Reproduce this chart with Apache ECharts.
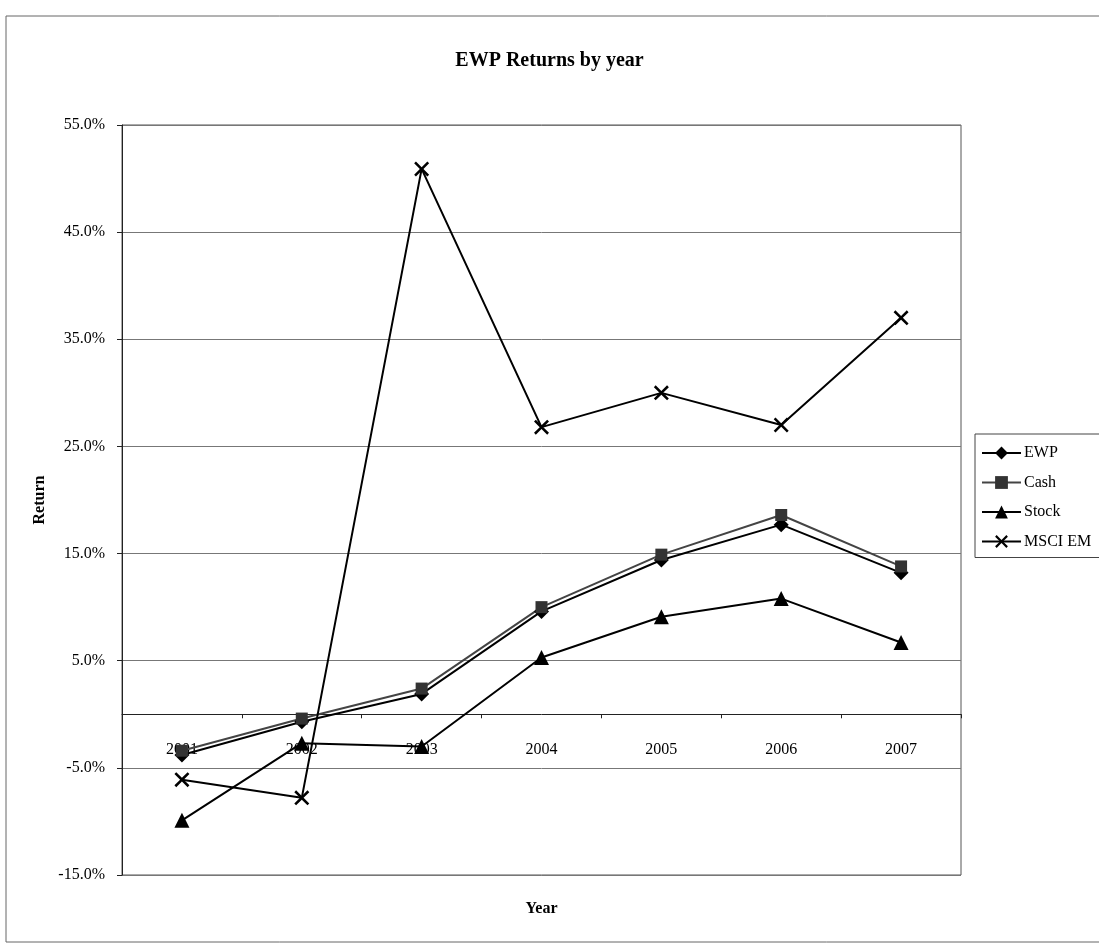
<!DOCTYPE html>
<html>
<head>
<meta charset="utf-8">
<script src="https://cdn.jsdelivr.net/npm/echarts@6/dist/echarts.min.js"></script>
<style>
html,body{margin:0;padding:0;background:#fff;}
#chart{width:1099px;height:945px;}
</style>
</head>
<body>
<div id="chart"></div>
<script>
var years = ['2001','2002','2003','2004','2005','2006','2007'];
var ewp   = [-3.8, -0.7, 1.9, 9.6, 14.4, 17.7, 13.2];
var cash  = [-3.4, -0.4, 2.4, 10.0, 14.9, 18.6, 13.8];
var stock = [-9.9, -2.7, -3.0, 5.3, 9.1, 10.8, 6.7];
var msci  = [-6.1, -7.8, 50.9, 26.8, 30.0, 27.0, 37.0];
var seriesNames = ['EWP', 'Cash', 'Stock', 'MSCI EM'];

var FONT = '"Liberation Serif", "Times New Roman", serif';
var X_PATH = 'path://M0,1.2 L1.2,0 L5,3.8 L8.8,0 L10,1.2 L6.2,5 L10,8.8 L8.8,10 L5,6.2 L1.2,10 L0,8.8 L3.8,5 Z';

var chart = echarts.init(document.getElementById('chart'), null, {renderer: 'canvas'});

function mkSeries(name, data, symbol, size, color, lineColor) {
  return {
    name: name,
    type: 'line',
    data: data,
    symbol: symbol,
    symbolSize: size,
    showAllSymbol: true,
    lineStyle: {color: lineColor, width: 2},
    itemStyle: {color: color, borderColor: color, borderWidth: 0, opacity: 1},
    emphasis: {disabled: true},
    animation: false
  };
}

var option = {
  backgroundColor: '#fff',
  animation: false,
  graphic: [{
    type: 'rect',
    shape: {x: 6, y: 16, width: 1110, height: 926},
    style: {fill: 'none', stroke: '#666', lineWidth: 1},
    silent: true,
    z: -10
  }],
  title: {
    text: 'EWP Returns by year',
    left: 'center',
    top: 46,
    textStyle: {fontFamily: FONT, fontSize: 20, fontWeight: 'bold', color: '#000'}
  },
  legend: {
    orient: 'vertical',
    left: 975,
    top: 434,
    padding: [11, 20, 8, 6],
    itemWidth: 39,
    itemHeight: 16,
    itemGap: 13.5,
    borderColor: '#444',
    borderWidth: 1,
    backgroundColor: '#fff',
    data: seriesNames,
    textStyle: {fontFamily: FONT, fontSize: 16, color: '#000', padding: [0, 0, 0, -2]}
  },
  grid: {
    left: 122, right: 138, top: 125, bottom: 70,
    containLabel: false,
    outerBoundsMode: 'none',
    show: true,
    borderColor: '#555',
    borderWidth: 1,
    backgroundColor: 'transparent'
  },
  xAxis: {
    type: 'category',
    data: years,
    boundaryGap: true,
    name: 'Year',
    nameLocation: 'middle',
    nameGap: 26,
    nameTextStyle: {fontFamily: FONT, fontSize: 16, fontWeight: 'bold', color: '#000'},
    axisLine: {onZero: true, lineStyle: {color: '#222', width: 1}},
    axisTick: {show: true, length: 4, inside: false, lineStyle: {color: '#222'}},
    axisLabel: {fontFamily: FONT, fontSize: 16, color: '#000', margin: -133},
    splitLine: {show: false}
  },
  yAxis: {
    type: 'value',
    min: -15,
    max: 55,
    interval: 10,
    name: 'Return',
    nameLocation: 'middle',
    nameGap: 72,
    nameRotate: 90,
    nameTextStyle: {fontFamily: FONT, fontSize: 16, fontWeight: 'bold', color: '#000'},
    axisLine: {show: true, lineStyle: {color: '#222', width: 1}},
    axisTick: {show: true, length: 5, lineStyle: {color: '#222'}},
    axisLabel: {
      fontFamily: FONT, fontSize: 16, color: '#000', margin: 17,
      formatter: function (v) { return v.toFixed(1) + '%'; }
    },
    splitLine: {show: true, lineStyle: {color: '#777', width: 1}}
  },
  series: [
    mkSeries('EWP', ewp, 'diamond', 15, '#000', '#000'),
    mkSeries('Cash', cash, 'rect', 12, '#333', '#444'),
    mkSeries('Stock', stock, 'triangle', 15, '#000', '#000'),
    mkSeries('MSCI EM', msci, X_PATH, 15, '#000', '#000')
  ]
};
chart.setOption(option);
</script>
</body>
</html>
